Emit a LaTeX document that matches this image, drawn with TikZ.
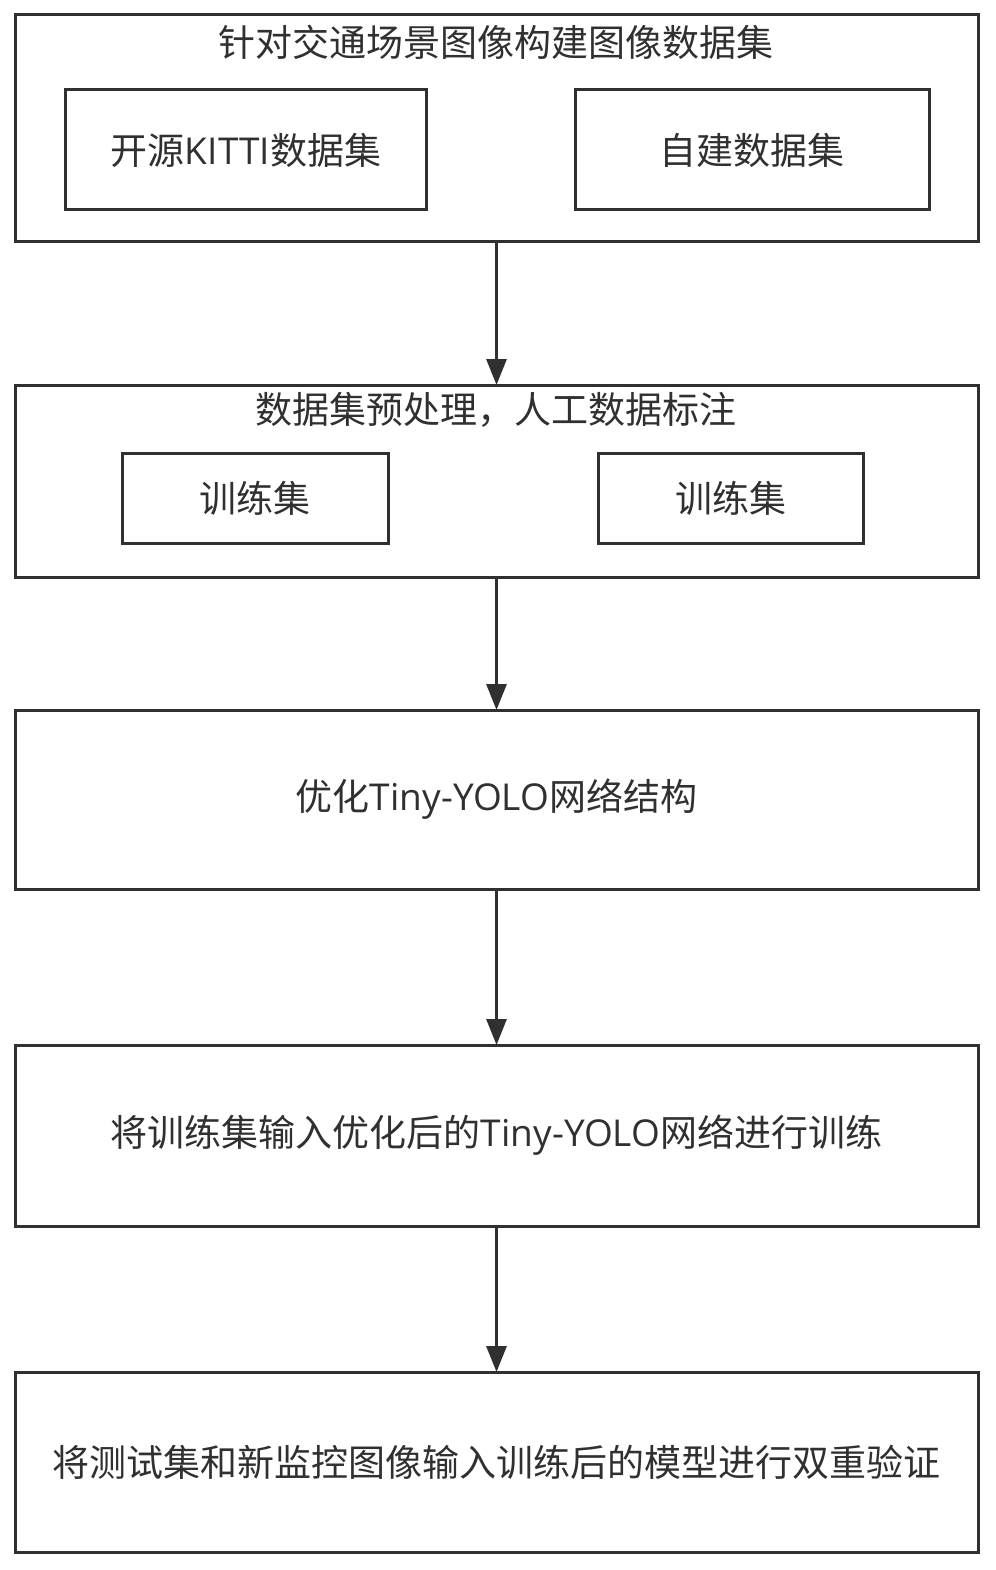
\documentclass[tikz,border=0pt]{standalone}
\usepackage{fontspec}
\newfontfamily\cjk{Noto Sans CJK SC}
\newfontfamily\lat{Open Sans}
\usetikzlibrary{arrows.meta}
\definecolor{ink}{HTML}{303030}
\tikzset{
  box/.style={draw=ink, line width=3pt, rectangle, inner sep=0pt, outer sep=0pt, fill=white},
  lbl/.style={text=ink, font=\cjk\fontsize{37}{42}\selectfont, inner sep=0pt},
  flow/.style={draw=ink, line width=3pt, -{Triangle[length=26pt,width=20pt]}}
}
\begin{document}
\begin{tikzpicture}[x=1pt,y=-1pt]
\useasboundingbox (0,0) rectangle (995,1570);
% box 1
\node[box, minimum width=963pt, minimum height=227pt] (b1) at (496.5,128.5) {};
\node[lbl] (t1) at (496,42) {针对交通场景图像构建图像数据集};
\node[box, minimum width=361pt, minimum height=120pt, lbl] (k) at (246,150) {开源{\lat KITTI}数据集};
\node[box, minimum width=354pt, minimum height=120pt, lbl] (z) at (752,150) {自建数据集};
% box 2
\node[box, minimum width=963pt, minimum height=192pt] (b2) at (496.5,481) {};
\node[lbl] (t2) at (496,410) {数据集预处理，人工数据标注};
\node[box, minimum width=266pt, minimum height=90pt, lbl] (s1) at (255,498) {训练集};
\node[box, minimum width=265pt, minimum height=90pt, lbl] (s2) at (730.5,498) {训练集};
% box 3
\node[box, minimum width=963pt, minimum height=179pt, lbl] (b3) at (496.5,799.5) {优化{\lat Tiny-YOLO}网络结构};
% box 4
\node[box, minimum width=963pt, minimum height=181pt, lbl] (b4) at (496.5,1135.5) {将训练集输入优化后的{\lat Tiny-YOLO}网络进行训练};
% box 5
\node[box, minimum width=963pt, minimum height=180pt, lbl] (b5) at (496.5,1462) {将测试集和新监控图像输入训练后的模型进行双重验证};
% arrows
\draw[flow] (b1.south) -- (b2.north);
\draw[flow] (b2.south) -- (b3.north);
\draw[flow] (b3.south) -- (b4.north);
\draw[flow] (b4.south) -- (b5.north);
\end{tikzpicture}
\end{document}
